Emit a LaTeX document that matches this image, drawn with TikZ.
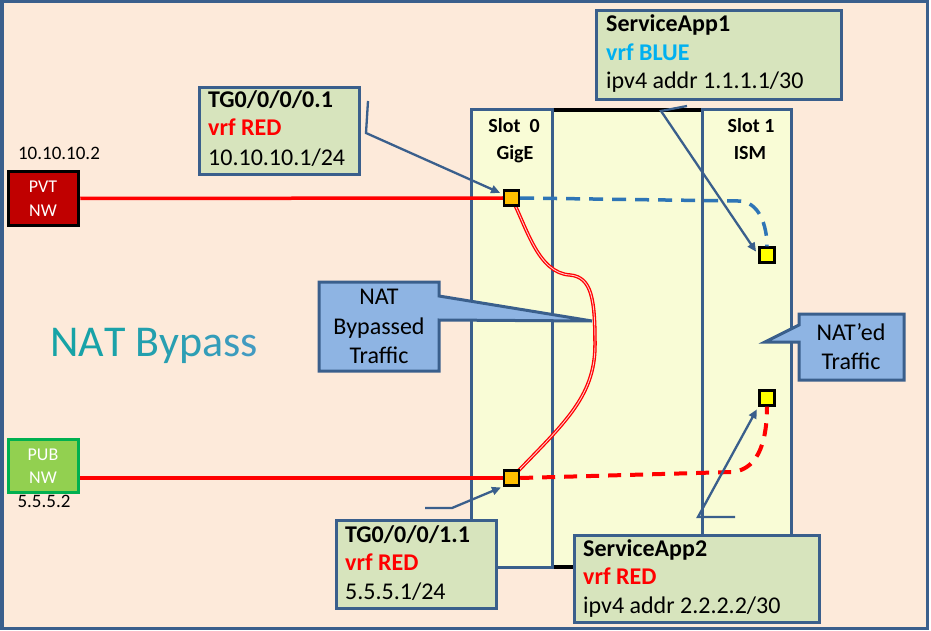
\documentclass[tikz,border=0pt]{standalone}
\usepackage{fontspec}
\setmainfont{Carlito}
\usetikzlibrary{arrows.meta}
\definecolor{bgc}{HTML}{FDEADA}
\definecolor{framec}{HTML}{3A5F8C}
\definecolor{chassisc}{HTML}{F9FCD6}
\definecolor{gboxc}{HTML}{D7E4BD}
\definecolor{bboxc}{HTML}{8EB4E3}
\definecolor{vblue}{HTML}{00B0F0}
\definecolor{dblue}{HTML}{2E75B6}
\definecolor{pvtc}{HTML}{C00000}
\definecolor{pubc}{HTML}{92D050}
\definecolor{pubb}{HTML}{00B050}
\definecolor{portor}{HTML}{FFC000}
\definecolor{portye}{HTML}{FFFF00}
\definecolor{tealA}{HTML}{16A3A6}
\definecolor{tealB}{HTML}{4A99C6}
\definecolor{redc}{HTML}{FF0000}
\tikzset{
  gbox/.style={draw=framec, line width=3pt, fill=gboxc, anchor=north west, inner sep=0pt},
  callout/.style={draw=framec, line width=3pt, fill=bboxc, line join=miter},
  port/.style={draw=black, line width=2.4pt, minimum size=15pt, inner sep=0pt},
  conn/.style={draw=framec, line width=2.3pt, -{Triangle[length=9pt,width=8pt]}},
  bt/.style={inner sep=0pt, anchor=base west, font=\fontsize{24}{29}\selectfont\bfseries},
  rt/.style={inner sep=0pt, anchor=base west, font=\fontsize{24}{29}\selectfont},
  ct/.style={inner sep=0pt, anchor=base, font=\fontsize{24}{29}\selectfont},
  st/.style={inner sep=0pt, anchor=base, font=\fontsize{20}{24}\selectfont\bfseries},
  nwt/.style={inner sep=0pt, anchor=base, text=white, font=\fontsize{18}{22}\selectfont},
  ipt/.style={inner sep=0pt, anchor=base, font=\fontsize{19}{22}\selectfont},
  redline/.style={draw=redc, line width=3.5pt},
}
\begin{document}
\begin{tikzpicture}[x=1pt,y=-1pt]
\useasboundingbox (0,0) rectangle (931,631);
\fill[white] (0,0) rectangle (931,631);
\draw[framec, line width=3.5pt, fill=bgc] (1.75,1.75) rectangle (927.25,628.25);

% chassis
\fill[chassisc] (471,110) rectangle (791,567);
\draw[framec, line width=3pt] (471,110) rectangle (552,567);
\draw[framec, line width=3pt] (702,110) rectangle (791,567);
\draw[black, line width=3.5pt] (553.5,110) -- (700.5,110);
\draw[black, line width=3.5pt] (553.5,567) -- (700.5,567);
\node[st] (s0a) at (514,133) {Slot\ \ 0};
\node[st] (s0b) at (515,160) {GigE};
\node[st] (s1a) at (751,133) {Slot 1};
\node[st] (s1b) at (750,160) {ISM};

% networks
\node[draw=black, line width=3.5pt, fill=pvtc, minimum width=70pt, minimum height=54pt, inner sep=0pt] (pvt) at (43.5,198.5) {};
\node[nwt] (pvtA) at (43,193) {PVT};
\node[nwt] (pvtB) at (43,216) {NW};
\node[ipt] (pvtip) at (59,160) {10.10.10.2};
\node[draw=pubb, line width=3pt, fill=pubc, minimum width=70pt, minimum height=53pt, inner sep=0pt] (pub) at (43.5,466) {};
\node[nwt] (pubA) at (43,460) {PUB};
\node[nwt] (pubB) at (43,483) {NW};
\node[ipt] (pubip) at (44,507) {5.5.5.2};

% ports
\node[port, fill=portor] (p0a) at (511.5,198) {};
\node[port, fill=portor] (p0b) at (511.5,478) {};
\node[port, fill=portye] (p1a) at (767,255) {};
\node[port, fill=portye] (p1b) at (767,398) {};

% traffic lines
\draw[redline] (pvt.east) -- (p0a.west);
\draw[redline] (pub.east |- p0b) -- (p0b.west);
\coordinate (bturn) at (738,201);
\coordinate (rturn) at (732,472);
\draw[dblue, line width=3.5pt, dash pattern=on 14pt off 9pt] (p0a.east) -- (bturn) to[out=0,in=90] (p1a.north);
\draw[redc, line width=4pt, dash pattern=on 13pt off 9pt] (p0b.east) -- (rturn) to[out=5,in=-90] (p1b.south);
\coordinate (cv1) at (570,275);
\coordinate (cv2) at (595,345);
\draw[draw=redc, double=red!20, line width=1.3pt, double distance=0.9pt]
  (p0a.center) .. controls (527,228) and (538,273) .. (cv1)
  .. controls (592,277) and (595,300) .. (cv2)
  .. controls (595,398) and (562,425) .. (p0b.center);
\node[port, fill=portor] at (p0a) {};
\node[port, fill=portor] at (p0b) {};

% connectors
\coordinate (c1a) at (368,101);
\coordinate (c1b) at (366,133);
\draw[conn, shorten >=3pt] (c1a) -- (c1b) -- (p0a);
\coordinate (c2a) at (687,106);
\coordinate (c2b) at (661,111);
\draw[conn, shorten >=4pt] (c2a) -- (c2b) -- (p1a.west);
\coordinate (c3a) at (425,508);
\coordinate (c3b) at (452,508);
\draw[conn, shorten >=2pt] (c3a) -- (c3b) -- (p0b.south west);
\coordinate (c4a) at (735,517);
\coordinate (c4b) at (698,517);
\draw[conn, shorten >=3pt] (c4a) -- (c4b) -- (p1b.south west);

% green boxes
\node[gbox, minimum width=160pt, minimum height=87pt] (tgA) at (198,86) {};
\node[bt] (tgA1) at (208,108) {TG0/0/0/0.1};
\node[bt, text=redc] (tgA2) at (208,136) {vrf RED};
\node[rt] (tgA3) at (208,166) {10.10.10.1/24};

\node[gbox, minimum width=245pt, minimum height=89pt] (saA) at (595,9) {};
\node[bt] (saA1) at (606,32) {ServiceApp1};
\node[bt, text=vblue] (saA2) at (606,61) {vrf BLUE};
\node[rt] (saA3) at (606,89) {ipv4 addr 1.1.1.1/30};

\node[gbox, minimum width=160pt, minimum height=88pt] (tgB) at (335,519) {};
\node[bt] (tgB1) at (345,542) {TG0/0/0/1.1};
\node[bt, text=redc] (tgB2) at (345,570) {vrf RED};
\node[rt] (tgB3) at (345,599) {5.5.5.1/24};

\node[gbox, minimum width=245pt, minimum height=87pt] (saB) at (573,534) {};
\node[bt] (saB1) at (583,556) {ServiceApp2};
\node[bt, text=redc] (saB2) at (583,584) {vrf RED};
\node[rt] (saB3) at (583,613) {ipv4 addr 2.2.2.2/30};

% callouts
\draw[callout] (319,282) -- (439,282) -- (439,296) -- (592,321) -- (439,320) -- (439,371) -- (319,371) -- cycle;
\node[ct] (cbA) at (379,304) {NAT};
\node[ct] (cbB) at (379,334) {Bypassed};
\node[ct] (cbC) at (379,363) {Traffic};
\draw[callout] (799,314) -- (904,314) -- (904,380) -- (799,380) -- (799,342) -- (765,342) -- (799,325) -- cycle;
\node[ct] (cnA) at (851,340) {NAT’ed};
\node[ct] (cnB) at (851,369) {Traffic};

% title
\node[inner sep=0pt, anchor=base west, font=\fontsize{44}{50}\selectfont] (title) at (50,356)
 {\textcolor{tealA}{N}\textcolor{tealA!95!tealB}{A}\textcolor{tealA!90!tealB}{T} \textcolor{tealA!75!tealB}{B}\textcolor{tealA!65!tealB}{y}\textcolor{tealA!55!tealB}{p}\textcolor{tealA!42!tealB}{a}\textcolor{tealA!28!tealB}{s}\textcolor{tealA!15!tealB}{s}};
\end{tikzpicture}
\end{document}
